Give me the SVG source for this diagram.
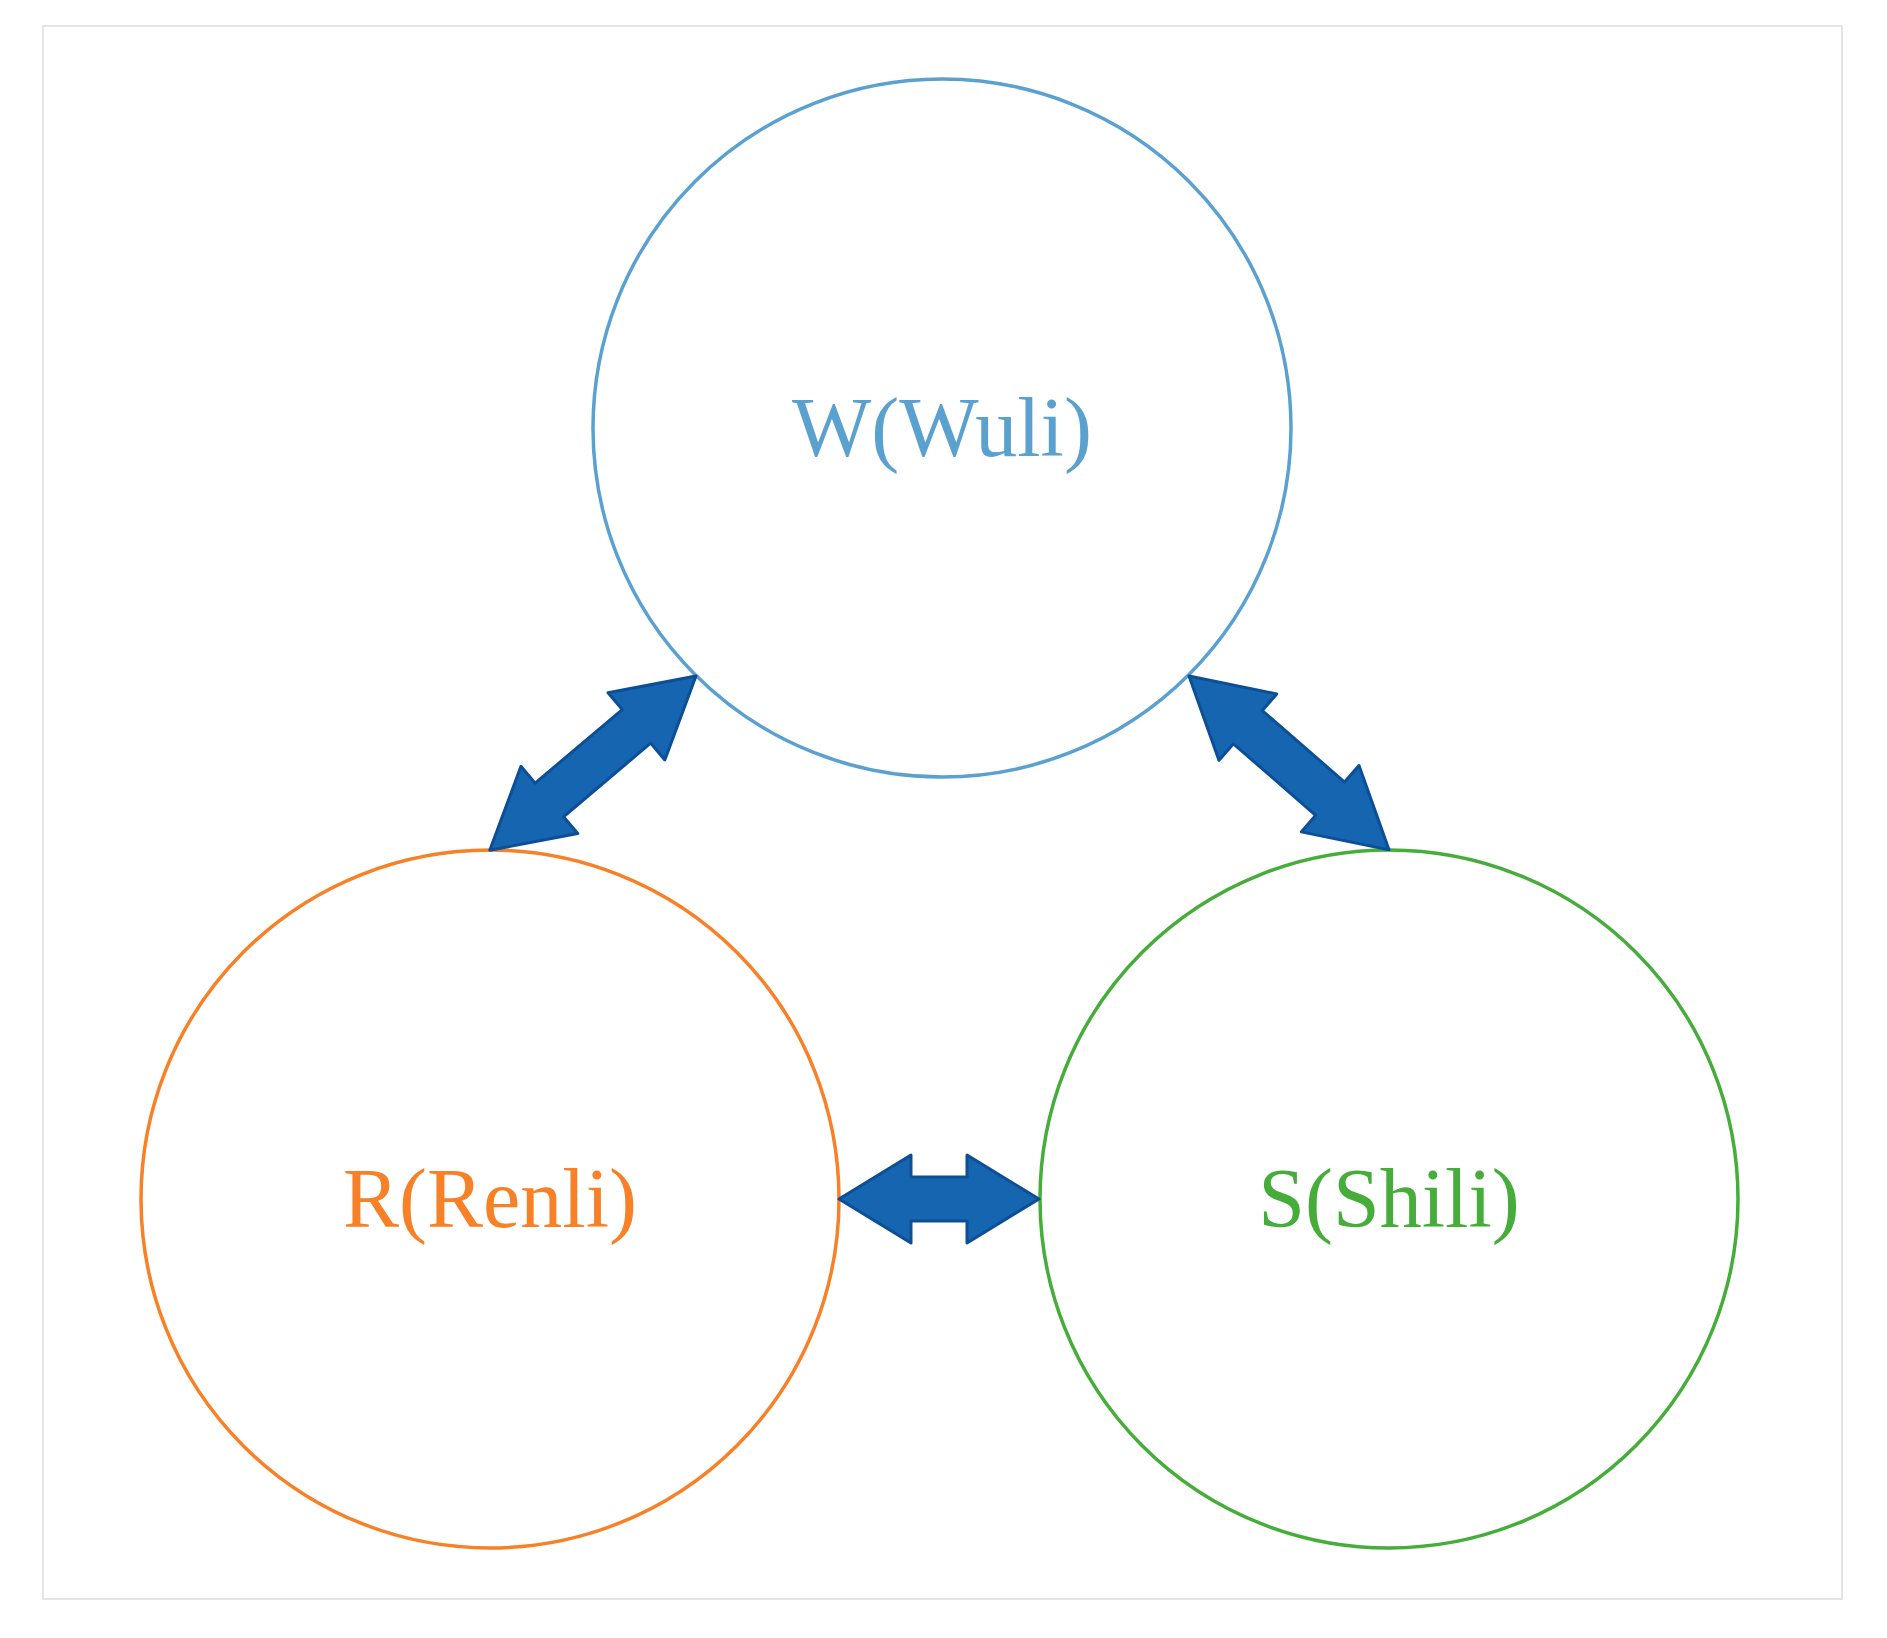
<svg xmlns="http://www.w3.org/2000/svg" width="1887" height="1638" viewBox="0 0 1887 1638">
<style>
.c{fill:#fff;stroke-width:3.5}
.t{font-family:"Palatino Linotype","Liberation Serif",serif;font-size:84px;text-anchor:middle}
.a{fill:#1565b0;stroke:#0d4f96;stroke-width:3;stroke-linejoin:round}
</style>
<rect x="43" y="26" width="1799" height="1573" fill="#fff" stroke="#ddd" stroke-width="1.5"/>
<g id="W"><circle class="c" cx="942" cy="428" r="349" stroke="#5ba1d0"/><text class="t" x="942" y="456" fill="#5ba1d0">W(Wuli)</text></g>
<g id="R"><circle class="c" cx="490" cy="1199" r="349" stroke="#f88027"/><text class="t" x="490" y="1227" fill="#f88027">R(Renli)</text></g>
<g id="S"><circle class="c" cx="1389" cy="1199" r="349" stroke="#46ad3a"/><text class="t" x="1389" y="1227" fill="#46ad3a">S(Shili)</text></g>
<g id="connectors">
<polygon class="a" transform="translate(839,1199)" points="0,0 72,-44 72,-22 128,-22 128,-44 200,0 128,44 128,22 72,22 72,44"/>
<polygon class="a" transform="translate(696,676) rotate(139.8)" points="0,0 78,-44 78,-22 192,-22 192,-44 270,0 192,44 192,22 78,22 78,44"/>
<polygon class="a" transform="translate(1189,676) rotate(41)" points="0,0 78,-44 78,-22 187,-22 187,-44 265,0 187,44 187,22 78,22 78,44"/>
</g>
</svg>
